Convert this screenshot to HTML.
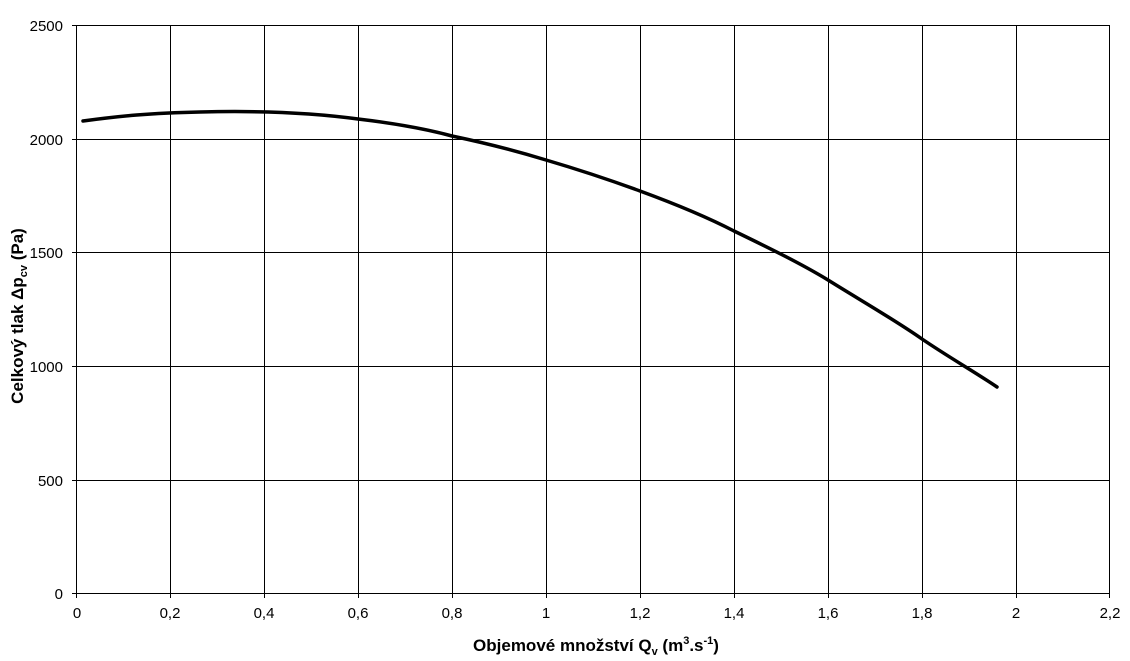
<!DOCTYPE html>
<html><head><meta charset="utf-8"><style>
html,body{margin:0;padding:0;background:#fff;}
svg{display:block;font-family:"Liberation Sans",Arial,sans-serif;}
</style></head><body>
<svg width="1130" height="661" viewBox="0 0 1130 661">
<g stroke="#000" stroke-width="1" shape-rendering="crispEdges" fill="none">
<line x1="72" y1="25.5" x2="1110" y2="25.5"/>
<line x1="72" y1="139.5" x2="1110" y2="139.5"/>
<line x1="72" y1="252.5" x2="1110" y2="252.5"/>
<line x1="72" y1="366.5" x2="1110" y2="366.5"/>
<line x1="72" y1="480.5" x2="1110" y2="480.5"/>
<line x1="72" y1="593.5" x2="1110" y2="593.5"/>
<line x1="76.5" y1="25" x2="76.5" y2="598"/>
<line x1="170.5" y1="25" x2="170.5" y2="598"/>
<line x1="264.5" y1="25" x2="264.5" y2="598"/>
<line x1="358.5" y1="25" x2="358.5" y2="598"/>
<line x1="452.5" y1="25" x2="452.5" y2="598"/>
<line x1="546.5" y1="25" x2="546.5" y2="598"/>
<line x1="640.5" y1="25" x2="640.5" y2="598"/>
<line x1="734.5" y1="25" x2="734.5" y2="598"/>
<line x1="828.5" y1="25" x2="828.5" y2="598"/>
<line x1="922.5" y1="25" x2="922.5" y2="598"/>
<line x1="1016.5" y1="25" x2="1016.5" y2="598"/>
<line x1="1109.5" y1="25" x2="1109.5" y2="598"/>
</g>
<path d="M83,121 C120,116 150,113 200,112 C240,111 300,111 358,119 C400,124 430,130 452,136 C490,144 520,152 546,160 C580,170 610,180 640,191 C670,202 705,216 734,231 C765,246 800,263 828,280 C860,300 895,320 922,339 C950,358 975,372 997,387" stroke="#000" stroke-width="3.5" fill="none" stroke-linecap="round"/>
<g font-size="15" text-anchor="end" fill="#000">
<text x="63" y="31">2500</text>
<text x="63" y="145">2000</text>
<text x="63" y="258">1500</text>
<text x="63" y="372">1000</text>
<text x="63" y="486">500</text>
<text x="63" y="599">0</text>
</g>
<g font-size="15" text-anchor="middle" fill="#000">
<text x="77" y="618">0</text>
<text x="170" y="618">0,2</text>
<text x="264" y="618">0,4</text>
<text x="358" y="618">0,6</text>
<text x="452" y="618">0,8</text>
<text x="546" y="618">1</text>
<text x="640" y="618">1,2</text>
<text x="734" y="618">1,4</text>
<text x="828" y="618">1,6</text>
<text x="922" y="618">1,8</text>
<text x="1016" y="618">2</text>
<text x="1110" y="618">2,2</text>
</g>
<text x="596" y="651" font-size="17" font-weight="bold" text-anchor="middle">Objemové množství Q<tspan font-size="11" dy="4">v</tspan><tspan dy="-4"> (m</tspan><tspan font-size="11" dy="-7">3</tspan><tspan dy="7">.s</tspan><tspan font-size="11" dy="-7">-1</tspan><tspan dy="7">)</tspan></text>
<text transform="translate(23,316) rotate(-90)" font-size="17" font-weight="bold" text-anchor="middle">Celkový tlak Δp<tspan font-size="11" dy="4">cv</tspan><tspan dy="-4"> (Pa)</tspan></text>
</svg>
</body></html>
